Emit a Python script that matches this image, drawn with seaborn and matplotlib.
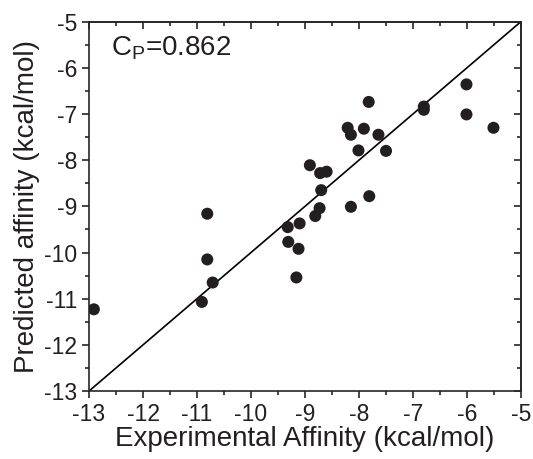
import numpy as np
import pandas as pd
import matplotlib
matplotlib.use("Agg")
import matplotlib.pyplot as plt
import seaborn as sns
from matplotlib.ticker import MultipleLocator

# valores
experimental = [-12.91, -10.81, -10.81, -10.71, -10.91, -9.32, -9.31, -9.10, -9.12, -9.16,
                -8.91, -8.72, -8.60, -8.70, -8.73, -8.81, -8.15, -8.21, -8.15, -7.91,
                -7.82, -8.01, -7.64, -7.50, -7.81, -6.80, -6.80, -6.01, -6.01, -5.51]
predito = [-11.23, -9.16, -10.15, -10.65, -11.07, -9.45, -9.77, -9.37, -9.92, -10.54,
           -8.11, -8.28, -8.25, -8.65, -9.04, -9.21, -9.01, -7.30, -7.45, -7.32,
           -6.74, -7.79, -7.45, -7.80, -8.78, -6.84, -6.91, -6.36, -7.01, -7.30]
limites = [-13, -5]
ticks = list(range(-13, -4))
cp_texto = "C$_\\mathregular{P}$=0.862"

dados = pd.DataFrame({"Experimental": experimental, "Predito": predito})

sns.set_style("ticks")
plt.rcParams["font.family"] = ["Liberation Sans", "DejaVu Sans"]
plt.rcParams["axes.unicode_minus"] = False
plt.rcParams["text.color"] = "#231f20"
plt.rcParams["axes.labelcolor"] = "#231f20"

fig = plt.figure(figsize=(5.33, 4.59), dpi=100)
ax = fig.add_axes([0.167, 0.148, 0.8105, 0.805])

ax.plot(limites, limites, color="black", lw=1.2, zorder=1)
sns.scatterplot(data=dados, x="Experimental", y="Predito", ax=ax, color="#231f20",
                s=75, edgecolor="none", zorder=2)

ax.set_xlim(limites)
ax.set_ylim(limites)
ax.set_xticks(ticks)
ax.set_yticks(ticks)
ax.xaxis.set_minor_locator(MultipleLocator(0.5))
ax.yaxis.set_minor_locator(MultipleLocator(0.5))
ax.tick_params(which="major", direction="out", length=5, width=1.2, labelsize=16.5,
               pad=3.5, labelcolor="#231f20")
ax.tick_params(which="minor", direction="out", length=3, width=1.2)

for s in ax.spines.values():
    s.set_visible(True)
    s.set_linewidth(1.2)

# ticks para dentro no topo e na direita
topo = ax.secondary_xaxis("top")
direita = ax.secondary_yaxis("right")
for eixo in (topo, direita):
    eixo.set_ticks(ticks)
    eixo.tick_params(which="major", direction="in", length=5, width=1.2,
                     labeltop=False, labelright=False)
    eixo.tick_params(which="minor", direction="in", length=3, width=1.2)
    eixo.spines[:].set_linewidth(1.2)
topo.xaxis.set_minor_locator(MultipleLocator(0.5))
direita.yaxis.set_minor_locator(MultipleLocator(0.5))

ax.set_xlabel("Experimental Affinity (kcal/mol)", fontsize=20, labelpad=0)
ax.set_ylabel("Predicted affinity (kcal/mol)", fontsize=20, labelpad=3)
ax.text(0.05, 0.965, cp_texto, transform=ax.transAxes, fontsize=20, va="top", ha="left")

fig.savefig("out.png", dpi=100)
